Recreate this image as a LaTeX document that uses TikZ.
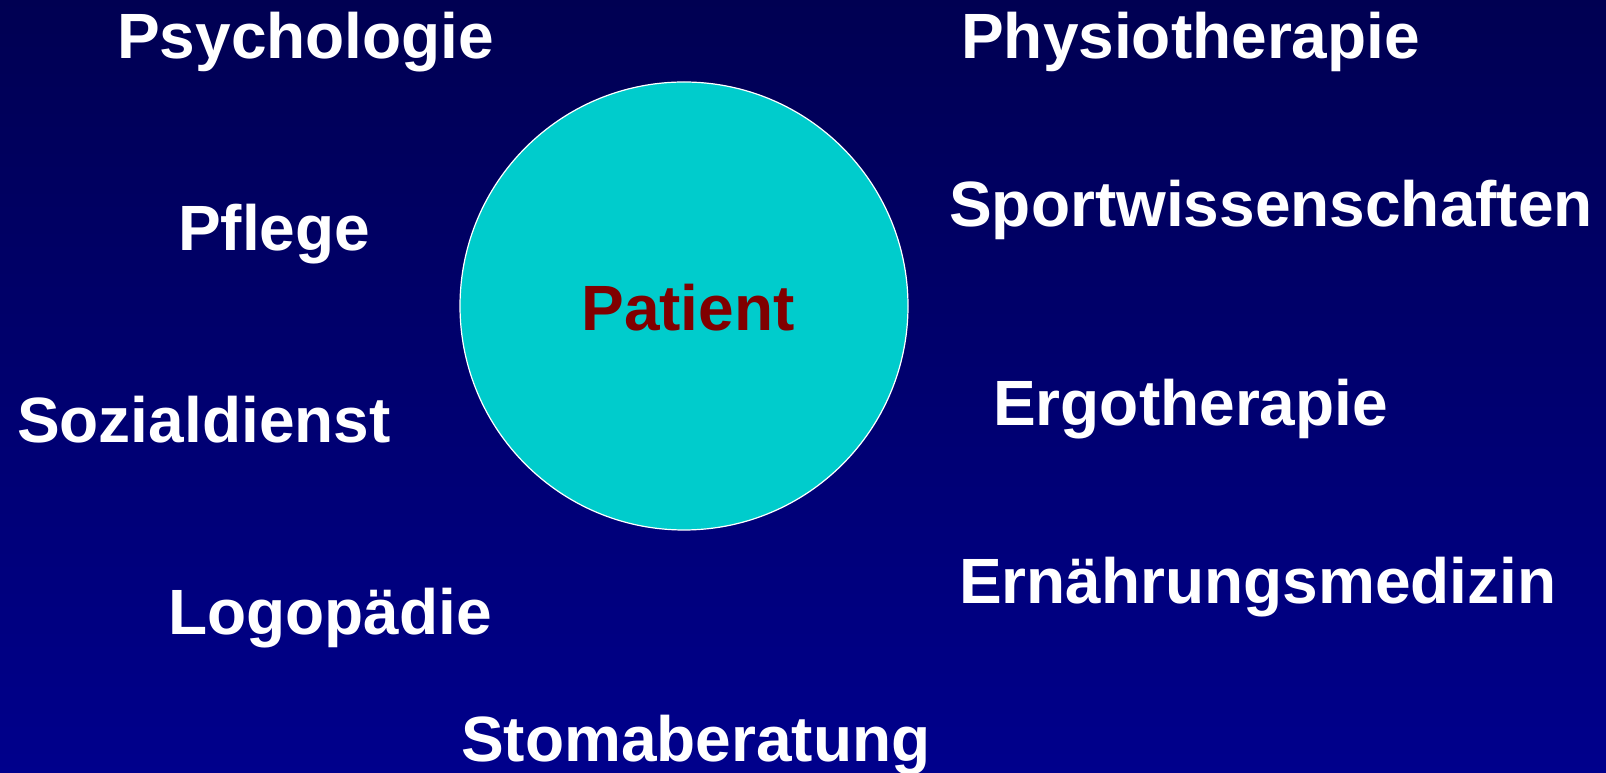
\documentclass[tikz,border=0pt]{standalone}
\usepackage{fontspec}
\setmainfont{Liberation Sans}
\definecolor{bgtop}{RGB}{0,0,82}
\definecolor{bgbot}{RGB}{0,0,140}
\definecolor{circfill}{RGB}{0,204,204}
\definecolor{patred}{RGB}{128,0,0}
\tikzset{
  lbl/.style={anchor=base west, inner sep=0pt, text=white, font=\fontsize{64}{64}\selectfont\bfseries},
  patlbl/.style={anchor=base, inner sep=0pt, text=patred, font=\fontsize{64}{64}\selectfont\bfseries},
  patcircle/.style={circle, fill=circfill, draw=white, line width=1.2pt, minimum size=448pt, inner sep=0pt}
}
\begin{document}
\begin{tikzpicture}[x=1pt,y=1pt]
\shade[top color=bgtop, bottom color=bgbot] (0,0) rectangle (1606,773);
\useasboundingbox (0,0) rectangle (1606,773);
\node[patcircle] (circ) at (684,467) {};
\node[patlbl] (patient) at (688,442) {Patient};
\node[lbl] (psy) at (117,714) {Psychologie};
\node[lbl] (phys) at (961,714) {Physiotherapie};
\node[lbl] (pfl) at (178,522) {Pflege};
\node[lbl] (sport) at (949,546) {Sportwissenschaften};
\node[lbl] (soz) at (17,330) {Sozialdienst};
\node[lbl] (ergo) at (993,347) {Ergotherapie};
\node[lbl] (ern) at (959,169) {Ernährungsmedizin};
\node[lbl] (logo) at (168,138) {Logopädie};
\node[lbl] (stoma) at (461,11) {Stomaberatung};
\end{tikzpicture}
\end{document}
